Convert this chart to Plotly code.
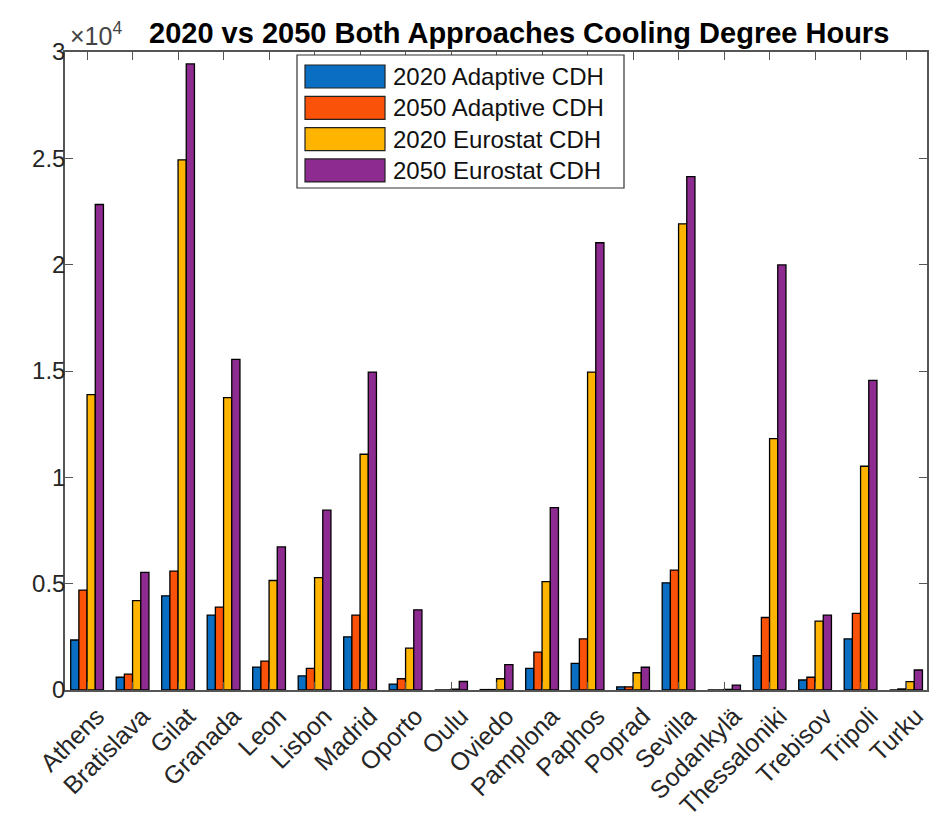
import plotly.graph_objects as go

cities = ["Athens", "Bratislava", "Gilat", "Granada", "Leon", "Lisbon", "Madrid", "Oporto",
          "Oulu", "Oviedo", "Pamplona", "Paphos", "Poprad", "Sevilla", "Sodankylä",
          "Thessaloniki", "Trebisov", "Tripoli", "Turku"]

adaptive_2020 = [2350, 600, 4430, 3520, 1080, 660, 2500, 280, 0, 20, 1020, 1250, 150, 5040, 0, 1610, 470, 2400, 0]
adaptive_2050 = [4700, 750, 5590, 3900, 1360, 1020, 3520, 530, 0, 20, 1785, 2400, 150, 5640, 0, 3410, 600, 3600, 50]
eurostat_2020 = [13890, 4200, 24930, 13750, 5150, 5280, 11085, 1970, 40, 530, 5100, 14950, 810, 21920, 30, 11820, 3240, 10520, 390]
eurostat_2050 = [22830, 5530, 29440, 15550, 6730, 8455, 14950, 3770, 400, 1190, 8580, 21030, 1070, 24140, 230, 19990, 3520, 14560, 940]

series_names = ["2020 Adaptive CDH", "2050 Adaptive CDH", "2020 Eurostat CDH", "2050 Eurostat CDH"]
series_values = [adaptive_2020, adaptive_2050, eurostat_2020, eurostat_2050]
colors = ["#0A6FC2", "#FA5208", "#FFB400", "#8E2B90"]

y_tickvals = [0, 5000, 10000, 15000, 20000, 25000, 30000]
y_ticktext = ["0", "0.5", "1", "1.5", "2", "2.5", "3"]

W, H = 929, 817
L, R, T, B = 65, 2, 52, 127
pw = W - L - R
ph = H - T - B

fig = go.Figure()
for name, vals, col in zip(series_names, series_values, colors):
    fig.add_trace(go.Bar(
        x=cities, y=vals, name=name,
        marker=dict(color=col, line=dict(color="#000000", width=1.3)),
        showlegend=False,
    ))

def px_x(p):
    return (p - L) / pw

def px_y(p):
    return (H - B - p) / ph

FONT = "Liberation Sans, Arial, sans-serif"
shapes = []
annotations = []
# custom legend box (MATLAB-style wide patches)
shapes.append(dict(type="rect", xref="paper", yref="paper",
                   x0=px_x(297), x1=px_x(624), y0=px_y(188), y1=px_y(55),
                   fillcolor="white", line=dict(color="#333333", width=1.2), layer="above"))
for i, (name, col) in enumerate(zip(series_names, colors)):
    top = 65 + 31.3 * i
    shapes.append(dict(type="rect", xref="paper", yref="paper",
                       x0=px_x(305), x1=px_x(385), y0=px_y(top + 23), y1=px_y(top),
                       fillcolor=col, line=dict(color="#222222", width=1.2), layer="above"))
    annotations.append(dict(xref="paper", yref="paper", x=px_x(391), y=px_y(top + 11.5),
                            text=name, showarrow=False, xanchor="left", yanchor="middle",
                            font=dict(family=FONT, size=24, color="#111111")))

# exponent label
annotations.append(dict(xref="paper", yref="paper", x=px_x(68), y=px_y(34),
                        text="×10<sup>4</sup>", showarrow=False, xanchor="left", yanchor="middle",
                        font=dict(family=FONT, size=25, color="#444444")))
# title
annotations.append(dict(xref="paper", yref="paper", x=px_x(519), y=px_y(33),
                        text="<b>2020 vs 2050 Both Approaches Cooling Degree Hours</b>",
                        showarrow=False, xanchor="center", yanchor="middle",
                        font=dict(family=FONT, size=29, color="#000000")))

fig.update_layout(
    width=W, height=H,
    margin=dict(l=L, r=R, t=T, b=B, autoexpand=False),
    paper_bgcolor="white", plot_bgcolor="white",
    barmode="group", bargap=0.28, bargroupgap=0.0,
    shapes=shapes, annotations=annotations,
    font=dict(family=FONT, size=24, color="#262626"),
)
fig.update_xaxes(
    type="category", range=[-0.485, 18.46],
    showline=True, linecolor="#555555", linewidth=1.5, mirror="ticks",
    ticks="inside", ticklen=8, tickcolor="#555555", tickwidth=1.2,
    tickangle=-45, tickfont=dict(family=FONT, size=25, color="#262626"),
    ticklabelshift=10,
    showgrid=False, zeroline=False, automargin=False,
)
fig.update_yaxes(
    range=[0, 30000], tickvals=y_tickvals, ticktext=y_ticktext,
    showline=True, linecolor="#555555", linewidth=1.5, mirror="ticks",
    ticks="inside", ticklen=8, tickcolor="#555555", tickwidth=1.2,
    tickfont=dict(family=FONT, size=24, color="#262626"),
    ticklabelstandoff=-7,
    showgrid=False, zeroline=False, automargin=False,
)

fig.write_html(
    "out.html",
    config={"displayModeBar": False},
    post_script="document.body.style.margin='0';document.body.style.padding='0';document.body.style.overflow='hidden';",
)
